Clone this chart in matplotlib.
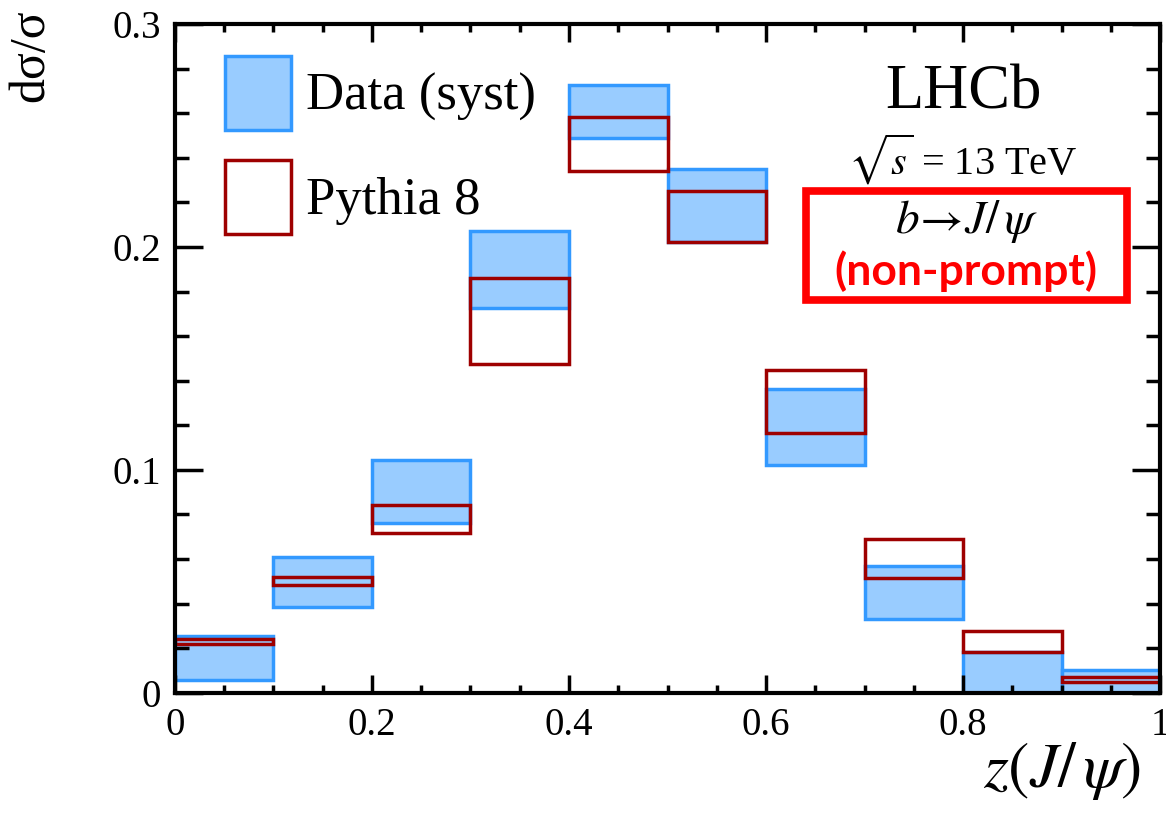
import numpy as np
import matplotlib
matplotlib.use("Agg")
import matplotlib.pyplot as plt
from matplotlib.patches import Patch, Rectangle
from matplotlib.ticker import MultipleLocator

plt.rcParams['font.family'] = ['Liberation Serif', 'DejaVu Serif']
plt.rcParams['mathtext.fontset'] = 'stix'

# bins in z(J/psi)
bin_lo = [0.0, 0.1, 0.2, 0.3, 0.4, 0.5, 0.6, 0.7, 0.8, 0.9]
bin_width = 0.1

# data, systematic band (low / high)
data_lo = [0.0058, 0.0386, 0.0760, 0.1725, 0.2487, 0.2024, 0.1022, 0.0330, 0.0, 0.0]
data_hi = [0.0256, 0.0610, 0.1045, 0.2073, 0.2726, 0.2350, 0.1362, 0.0570, 0.0185, 0.0103]

# Pythia 8 band (low / high)
pyth_lo = [0.0220, 0.0484, 0.0716, 0.1475, 0.2342, 0.2024, 0.1167, 0.0517, 0.0185, 0.0046]
pyth_hi = [0.0242, 0.0520, 0.0843, 0.1860, 0.2581, 0.2253, 0.1448, 0.0689, 0.0275, 0.0069]

x_ticks = [0, 0.2, 0.4, 0.6, 0.8, 1.0]
x_ticklabels = ['0', '0.2', '0.4', '0.6', '0.8', '1']
y_ticks = [0, 0.1, 0.2, 0.3]
y_ticklabels = ['0', '0.1', '0.2', '0.3']

fill_blue = '#99ccff'
edge_blue = '#3399ff'
edge_red = '#9e0000'

fig = plt.figure(figsize=(11.66, 8.15), dpi=100)
ax = fig.add_axes([0.150, 0.150, 0.845, 0.8205])

ax.bar(bin_lo, np.array(data_hi) - np.array(data_lo), bottom=data_lo, width=bin_width,
       align='edge', facecolor=fill_blue, edgecolor=edge_blue, linewidth=2.5)
ax.bar(bin_lo, np.array(pyth_hi) - np.array(pyth_lo), bottom=pyth_lo, width=bin_width,
       align='edge', facecolor='none', edgecolor=edge_red, linewidth=2.5)

ax.set_xlim(0, 1)
ax.set_ylim(0, 0.3)
ax.set_xticks(x_ticks)
ax.set_xticklabels(x_ticklabels)
ax.xaxis.set_minor_locator(MultipleLocator(0.05))
ax.set_yticks(y_ticks)
ax.set_yticklabels(y_ticklabels)
ax.yaxis.set_minor_locator(MultipleLocator(0.02))
ax.tick_params(which='both', direction='in', top=True, right=True, width=2.5, labelsize=28)
ax.tick_params(axis='x', which='major', length=13, pad=10)
ax.tick_params(axis='x', which='minor', length=6)
ax.tick_params(axis='y', which='major', length=20, pad=10)
ax.tick_params(axis='y', which='minor', length=10)
for sp in ax.spines.values():
    sp.set_linewidth(3)

ax.set_ylabel('dσ/σ', fontsize=36)
ax.yaxis.set_label_coords(-0.122, 0.953)
ax.set_xlabel('$z(J/\\,\\psi)$', fontsize=46)
ax.xaxis.set_label_coords(0.90, -0.070)

handles = [Patch(facecolor=fill_blue, edgecolor=edge_blue, linewidth=2.5),
           Patch(facecolor='none', edgecolor=edge_red, linewidth=2.5)]
ax.legend(handles, ['Data (syst)', 'Pythia 8'], loc='upper left', frameon=False,
          fontsize=38, handlelength=1.25, handleheight=1.77, labelspacing=0.58,
          handletextpad=0.28, borderpad=0, borderaxespad=0,
          bbox_to_anchor=(0.051, 0.952))

ax.text(0.80, 0.896, 'LHCb', transform=ax.transAxes, fontsize=45, ha='center', va='center')
ax.text(0.80, 0.797, '$\\sqrt{s}$ = 13 TeV', transform=ax.transAxes, fontsize=29, ha='center', va='center')
ax.text(0.803, 0.704, '$b\\!\\rightarrow\\!J/\\,\\psi$', transform=ax.transAxes, fontsize=34, ha='center', va='center')
ax.text(0.803, 0.630, '(non-prompt)', transform=ax.transAxes, fontsize=32, ha='center', va='center',
        color='#ff0000', fontweight='bold', family=['Lato', 'DejaVu Sans'])
ax.add_patch(Rectangle((0.641, 0.587), 0.325, 0.163, transform=ax.transAxes, fill=False,
                       edgecolor='#ff0000', linewidth=5.5, clip_on=False))

fig.savefig('out.png', dpi=100)
